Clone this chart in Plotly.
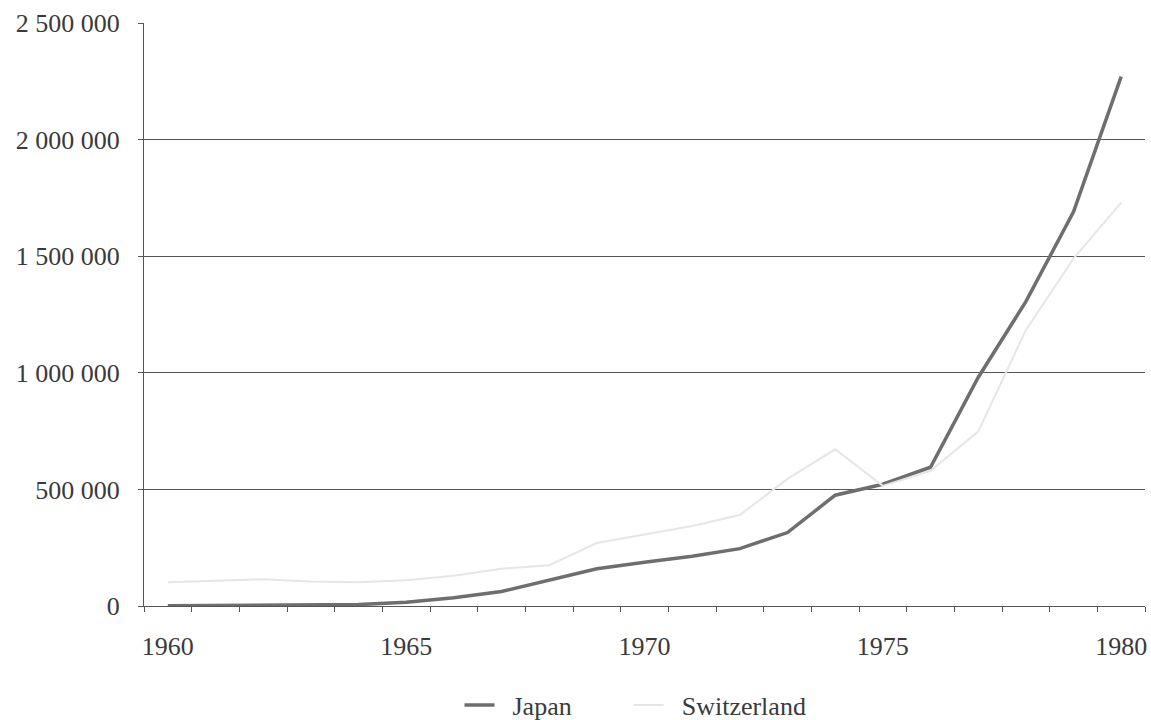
import plotly.graph_objects as go

years = list(range(1960, 1981))
japan = [1000, 1500, 2500, 3000, 6000, 16000, 35000, 62000, 112000, 160000, 188000,
         213000, 246000, 315000, 475000, 522000, 595000, 980000, 1305000, 1690000, 2270000]
switzerland = [102000, 110000, 115000, 105000, 102000, 110000, 130000, 160000, 175000, 270000, 305000,
               343000, 390000, 545000, 672000, 515000, 580000, 748000, 1183000, 1490000, 1730000]

x_labels = [1960, 1965, 1970, 1975, 1980]
y_ticks = [0, 500000, 1000000, 1500000, 2000000, 2500000]

axis_col = "#555555"
font = dict(family="Liberation Serif, Times New Roman, serif", size=26, color="#3a3a3a")

fig = go.Figure()
fig.add_trace(go.Scatter(x=years, y=japan, mode="lines", name="\u2002Japan\u2003\u2003",
                         line=dict(color="#6e6e6e", width=3.5)))
fig.add_trace(go.Scatter(x=years, y=switzerland, mode="lines", name="\u2002Switzerland",
                         line=dict(color="#e6e6e6", width=2)))

fig.update_layout(
    width=1151, height=720,
    margin=dict(l=144, r=6, t=23, b=114, autoexpand=False),
    paper_bgcolor="white", plot_bgcolor="white",
    font=font,
    separators=". ",
    showlegend=True,
    legend=dict(orientation="h", x=0.491, xanchor="center", y=-0.17, yanchor="middle",
                font=font, itemwidth=30, tracegroupgap=0),
)
fig.update_xaxes(
    range=[1959.5, 1980.5], automargin=False,
    tickmode="array", tickvals=x_labels, ticktext=[str(v) for v in x_labels],
    ticks="", ticklabelstandoff=17,
    showgrid=False, zeroline=False,
    showline=True, linecolor=axis_col, linewidth=1,
    minor=dict(tickmode="array", tickvals=[y - 0.5 for y in years] + [1980.5],
               ticks="outside", ticklen=5, tickcolor=axis_col, tickwidth=1, showgrid=False),
    tickfont=font,
)
fig.update_yaxes(
    range=[0, 2500000], automargin=False,
    tickmode="array", tickvals=y_ticks, tickformat=",d",
    ticks="outside", ticklen=5, tickcolor=axis_col, tickwidth=1,
    ticklabelstandoff=13,
    showgrid=True, gridcolor=axis_col, gridwidth=1,
    zeroline=False,
    showline=True, linecolor=axis_col, linewidth=1,
    tickfont=font,
)

fig.write_html("out.html",
               config={"displayModeBar": False},
               post_script="document.body.style.margin='0';document.body.style.overflow='hidden';")
